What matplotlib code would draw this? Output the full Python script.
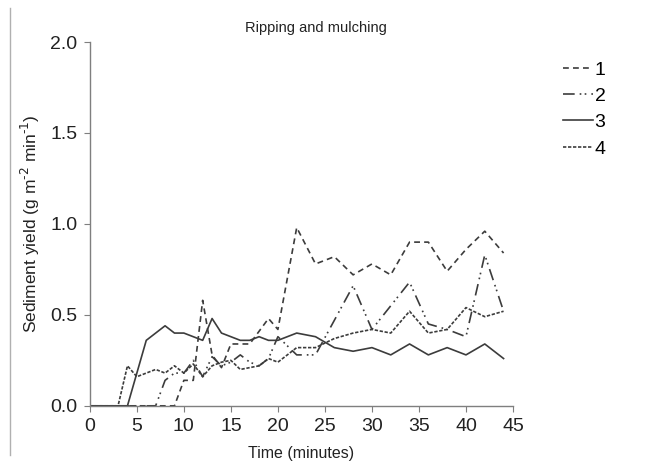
import matplotlib.pyplot as plt
import matplotlib.lines as mlines

plt.rcParams['font.family'] = ['Liberation Sans', 'DejaVu Sans']

# time in minutes: every minute to 20, then every 2 minutes
time = list(range(0, 21)) + list(range(22, 45, 2))

plot1 = [0, 0, 0, 0, 0, 0, 0, 0, 0, 0, 0.14, 0.14, 0.58, 0.28, 0.21, 0.34, 0.34, 0.34, 0.41, 0.48, 0.42,
         0.98, 0.78, 0.82, 0.72, 0.78, 0.72, 0.90, 0.90, 0.74, 0.86, 0.96, 0.84]
plot2 = [0, 0, 0, 0, 0, 0, 0, 0, 0.14, 0.18, 0.18, 0.25, 0.16, 0.27, 0.22, 0.24, 0.28, 0.24, 0.22, 0.26, 0.38,
         0.28, 0.28, 0.47, 0.66, 0.42, 0.55, 0.68, 0.45, 0.42, 0.38, 0.83, 0.52]
plot3 = [0, 0, 0, 0, 0, 0.18, 0.36, 0.40, 0.44, 0.40, 0.40, 0.38, 0.36, 0.48, 0.40, 0.38, 0.36, 0.36, 0.38, 0.36, 0.36,
         0.40, 0.38, 0.32, 0.30, 0.32, 0.28, 0.34, 0.28, 0.32, 0.28, 0.34, 0.26]
plot4 = [0, 0, 0, 0, 0.22, 0.16, 0.18, 0.20, 0.18, 0.22, 0.18, 0.23, 0.16, 0.22, 0.24, 0.25, 0.20, 0.21, 0.22, 0.26, 0.24,
         0.32, 0.32, 0.37, 0.40, 0.42, 0.40, 0.52, 0.40, 0.42, 0.54, 0.49, 0.52]

labels = ['1', '2', '3', '4']
xticks = list(range(0, 46, 5))
yticks = [0.0, 0.5, 1.0, 1.5, 2.0]

lc = '#3c3c3c'
tc = '#222222'
styles = [(0, (3.5, 2.5)), (0, (7, 3, 1, 2, 1, 3)), '-', (0, (2, 1))]

fig = plt.figure(figsize=(6.51, 4.67), dpi=100)
ax = fig.add_axes([0.138, 0.131, 0.650, 0.779])

handles = []
for ys, lab, ls in zip([plot1, plot2, plot3, plot4], labels, styles):
    ax.plot(time, ys, color=lc, linestyle=ls, linewidth=1.2)
    handles.append(mlines.Line2D([], [], color=lc, linestyle=ls, linewidth=1.2, label=lab))

ax.set_xlim(0, 45)
ax.set_ylim(0, 2.0)
ax.set_xticks(xticks)
ax.set_yticks(yticks)
ax.set_yticklabels(['%.1f' % v for v in yticks])
for s in ['top', 'right']:
    ax.spines[s].set_visible(False)
for s in ['left', 'bottom']:
    ax.spines[s].set_color('#7f7f7f')
    ax.spines[s].set_linewidth(1.0)
ax.tick_params(direction='out', length=4, color='#7f7f7f', labelsize=14, labelcolor=tc)
ax.tick_params(axis='x', pad=5)
ax.tick_params(axis='y', pad=5)

ax.set_xlabel('Time (minutes)', fontsize=11.5, color=tc, labelpad=8)
ax.set_ylabel(r'Sediment yield (g m$^{\text{-}2}$ min$^{\text{-}1}$)', fontsize=12.5, color=tc, labelpad=6)
fig.text(0.486, 0.94, 'Ripping and mulching', ha='center', va='center', fontsize=10.5, color=tc)

fig.legend(handles=handles, loc='upper right', bbox_to_anchor=(0.957, 0.907), frameon=False,
           handlelength=1.5, handletextpad=0.1, labelspacing=0.45, fontsize=14)

# thin frame line at the left edge
fig.add_artist(mlines.Line2D([0.016, 0.016], [0.025, 0.983], color='#b0b0b0', linewidth=1.0))

fig.savefig('out.png', dpi=100)
